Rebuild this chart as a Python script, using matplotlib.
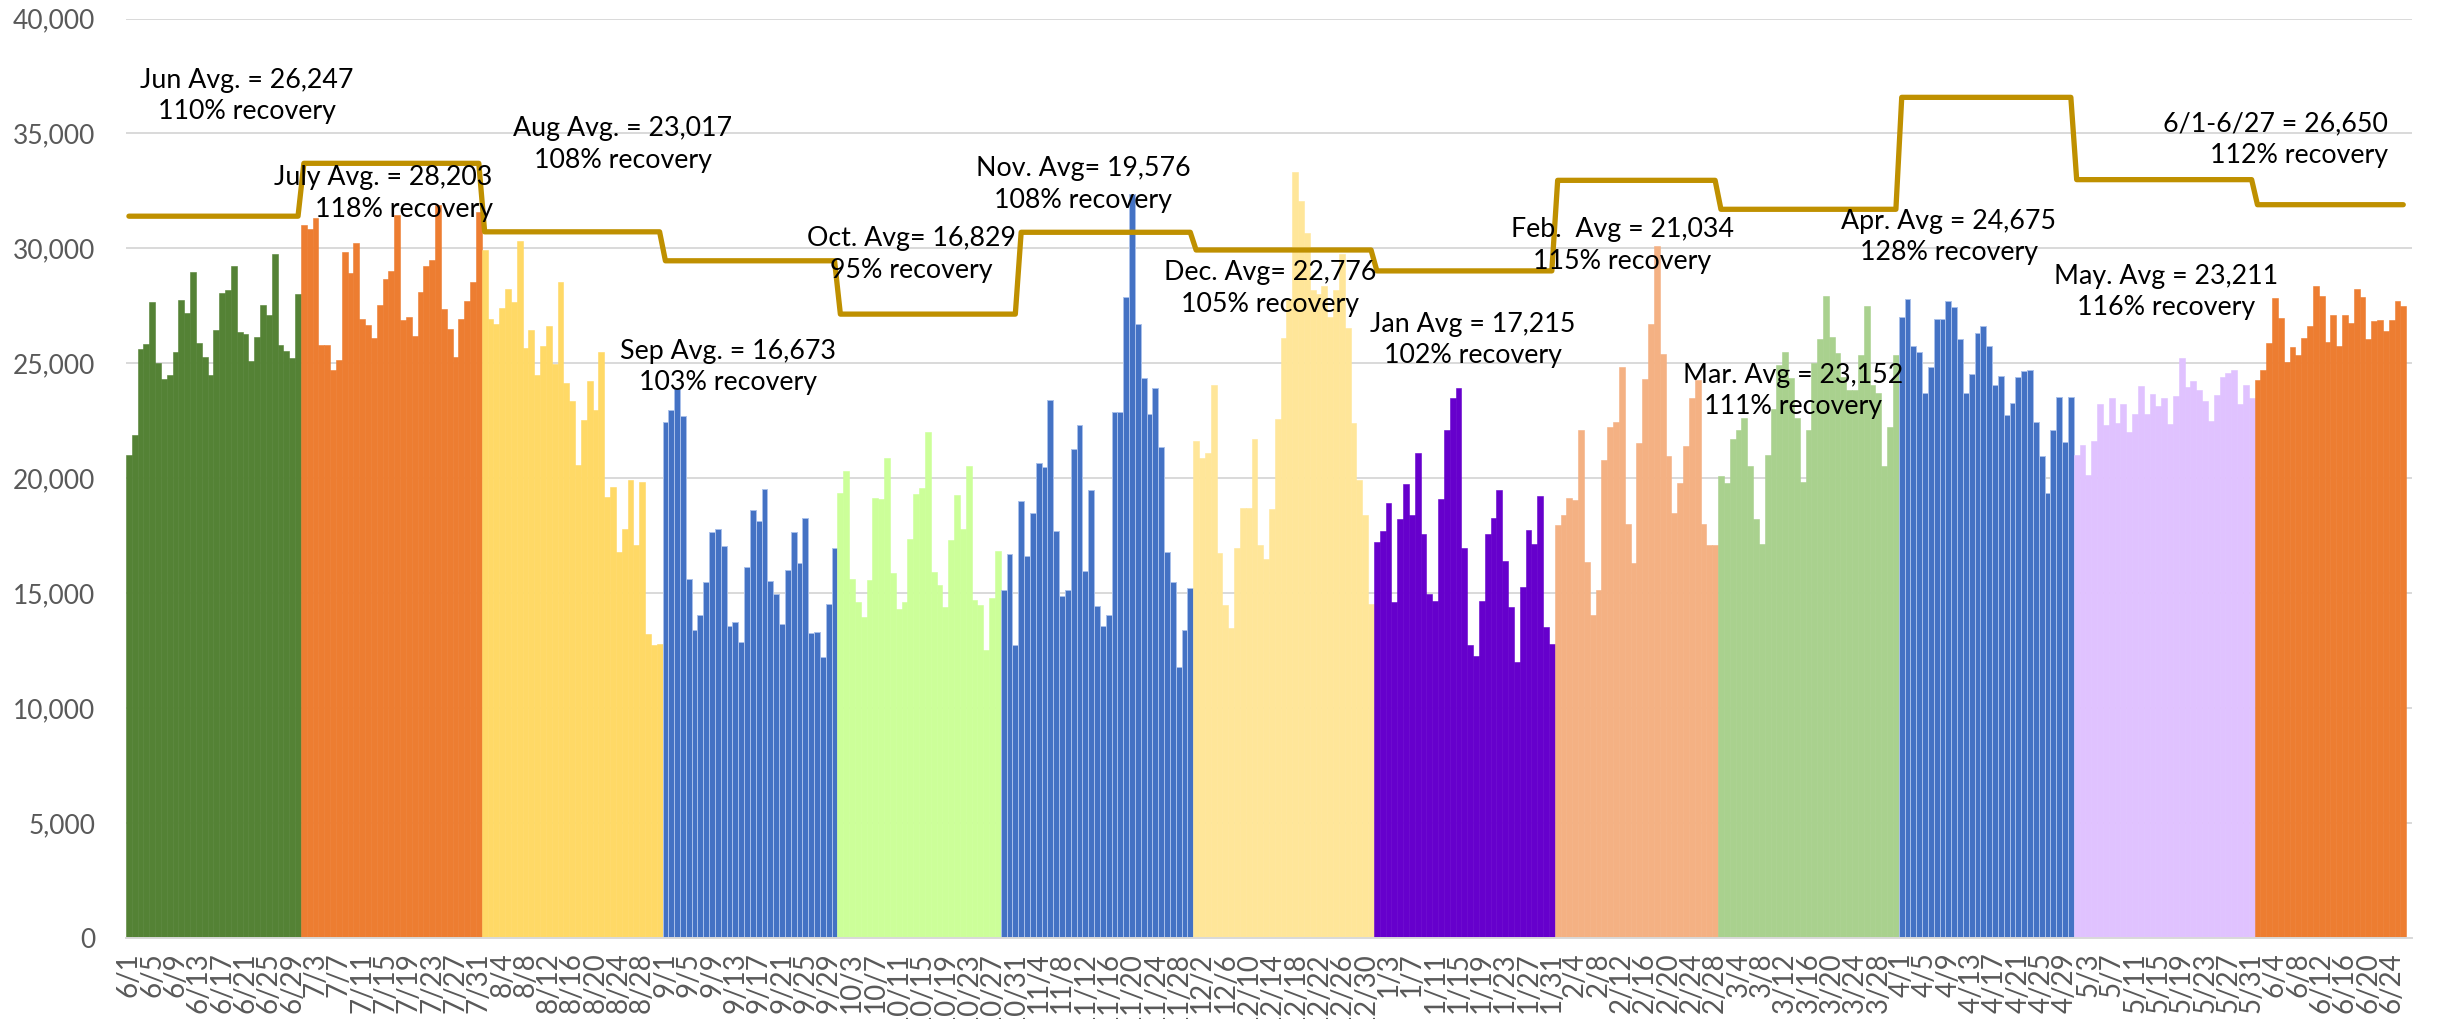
import matplotlib
matplotlib.use('Agg')
import matplotlib.pyplot as plt
import numpy as np
import pandas as pd
from matplotlib.ticker import FuncFormatter

plt.rcParams['font.family'] = ['Lato', 'DejaVu Sans']

# ---------------- data ----------------
dates = pd.date_range('2021-06-01', '2022-06-27', freq='D')
date_labels = [f"{d.month}/{d.day}" for d in dates]

jun21 = [21000, 21900, 25640, 25860, 27670, 25020, 24330, 24510, 25500, 27760,
         27190, 28980, 25900, 25280, 24490, 26460, 28070, 28200, 29240, 26370,
         26280, 25110, 26150, 27540, 27080, 29750, 25810, 25550, 25240, 28030]
jul21 = [31010, 30860, 31320, 25810, 25810, 24690, 25150, 29840, 28930, 30240,
         26940, 26680, 26100, 27540, 28670, 29020, 31460, 26880, 27030, 26190,
         28090, 29240, 29490, 31880, 27360, 26500, 25280, 26940, 27720, 28540, 31570]
aug21 = [29930, 26940, 26720, 27410, 28230, 27670, 30330, 25660, 26460, 24510,
         25770, 26630, 24950, 28540, 24160, 23380, 20590, 22520, 24240, 22980,
         25500, 19180, 19640, 16790, 17780, 19910, 17080, 19820, 13230, 12760, 12810]
sep21 = [22430, 22960, 23890, 22720, 15600, 13410, 14070, 15480, 17650, 17780,
         17060, 13560, 13740, 12870, 16150, 18600, 18140, 19530, 15550, 14980,
         13670, 15990, 17670, 16300, 18270, 13270, 13290, 12230, 14510, 16970]
oct21 = [19360, 20310, 15620, 14600, 13960, 15570, 19130, 19090, 20900, 15880,
         14330, 14600, 17360, 19310, 19580, 22030, 15930, 15350, 14420, 17320,
         19270, 17780, 20530, 14690, 14470, 12520, 14800, 16830]
nov21 = [15150, 16720, 12760, 19000, 16630, 18510, 20680, 20510, 23400, 17700,
         14890, 15150, 21260, 22300, 15950, 19490, 14440, 13560, 14070, 22870,
         22890, 27890, 32360, 26700, 24380, 22810, 23910, 21350, 16810, 15480,
         11770, 13410, 15220]
dec21 = [21610, 20860, 21080, 24070, 16750, 14490, 13490, 16970, 18690, 18690,
         21720, 17100, 16480, 18650, 22560, 26100, 27800, 33310, 32050, 30680,
         28200, 28000, 28380, 27000, 28200, 29750, 26540, 22390, 19910, 18380, 14510]
jan22 = [17230, 17700, 18910, 14620, 18210, 19730, 18400, 21080, 17560, 14980,
         14670, 19090, 22120, 23470, 23930, 16970, 12760, 12280, 14670, 17590,
         18250, 19470, 16410, 14380, 11990, 15260, 17740, 17120, 19220, 13540, 12810]
feb22 = [17960, 18400, 19130, 19050, 22120, 16370, 14050, 15130, 20790, 22250,
         22430, 24860, 18010, 16330, 21520, 24330, 26700, 30110, 25420, 20950,
         18510, 19780, 21390, 23470, 24290, 18010, 17080, 17080]
mar22 = [20090, 19780, 21700, 22120, 22630, 20530, 18210, 17140, 20990, 23010,
         24930, 25500, 24380, 22610, 19820, 22080, 25020, 26040, 27940, 26150,
         25460, 24400, 23820, 23820, 25370, 27500, 24040, 23710, 20530, 22210, 25370]
apr22 = [27010, 27810, 25750, 25480, 23690, 24840, 26940, 26940, 27720, 27450,
         26040, 23690, 24550, 26300, 26630, 25750, 24070, 24440, 22740, 23290,
         24400, 24660, 24690, 22450, 20970, 19360, 22080, 23540, 21570, 23540]
may22 = [20990, 21460, 20150, 21610, 23250, 22300, 23510, 22390, 23250, 22030,
         22810, 24020, 22780, 23650, 23140, 23510, 22340, 23560, 25240, 23960,
         24220, 23820, 23340, 22500, 23620, 24420, 24600, 24730, 23230, 24040, 23510]
jun22 = [24290, 24690, 25900, 27850, 26990, 25040, 25730, 25370, 26100, 26630,
         28360, 27940, 25930, 27080, 25750, 27080, 26770, 28230, 27890, 26040,
         26830, 26880, 26410, 26880, 27720, 27500]

# monthly 2019 reference levels (Jun 2021 ... Jun 2022 periods)
baseline_2019 = [31400, 33700, 30720, 29460, 27140, 30700, 29930,
                 29020, 32960, 31700, 36570, 32990, 31900]

annotations = [
    "Jun Avg. = 26,247\n110% recovery",
    "July Avg. = 28,203\n118% recovery",
    "Aug Avg. = 23,017\n108% recovery",
    "Sep Avg. = 16,673\n103% recovery",
    "Oct. Avg= 16,829\n95% recovery",
    "Nov. Avg= 19,576\n108% recovery",
    "Dec. Avg= 22,776\n105% recovery",
    "Jan Avg = 17,215\n102% recovery",
    "Feb.  Avg = 21,034\n115% recovery",
    "Mar. Avg = 23,152\n111% recovery",
    "Apr. Avg = 24,675\n128% recovery",
    "May. Avg = 23,211\n116% recovery",
    "6/1-6/27 = 26,650\n112% recovery",
]

# ---------------- styling ----------------
segments = [
    (jun21, '#548235'), (jul21, '#ED7D31'), (aug21, '#FFD966'),
    (sep21, '#4472C4'), (oct21, '#CCFF99'), (nov21, '#4472C4'),
    (dec21, '#FFE699'), (jan22, '#6600CC'), (feb22, '#F4B183'),
    (mar22, '#A9D18E'), (apr22, '#4472C4'), (may22, '#E0C2FF'),
    (jun22, '#ED7D31'),
]
blue = '#4472C4'

# annotation positions (category index, value), alignment
ann_pos = [
    (20.2, 36640, 'center'), (62.4, 32390, 'right'), (84.7, 34520, 'center'),
    (102.7, 24840, 'center'), (134.1, 29730, 'center'), (163.6, 32780, 'center'),
    (195.7, 28250, 'center'), (230.5, 26010, 'center'), (256.1, 30120, 'center'),
    (285.4, 23790, 'center'), (312.1, 30500, 'center'), (349.3, 28100, 'center'),
    (387.4, 34730, 'right'),
]

W, H = 2440, 1019
fig = plt.figure(figsize=(W / 100, H / 100), dpi=100)
ax = fig.add_axes([126 / W, (H - 938) / H, 2286 / W, 919.5 / H])

start = 0
for vals, col in segments:
    x = np.arange(start, start + len(vals))
    if col == blue:
        ax.bar(x, vals, width=1.0, color=col, edgecolor='#A9C0EA', linewidth=0.7, zorder=2)
    else:
        ax.bar(x, vals, width=1.0, color=col, edgecolor=col, linewidth=0.4, zorder=2)
    start += len(vals)
n_bars = start

# 2019 reference step line (daily points through bar centres)
month_idx = [(d.year - 2021) * 12 + d.month - 6 for d in dates[:n_bars]]
line_vals = [baseline_2019[m] for m in month_idx]
ax.plot(np.arange(n_bars), line_vals, color='#BF9000', lw=3.8,
        solid_capstyle='round', solid_joinstyle='round', zorder=3)

for txt, (xp, yp, ha) in zip(annotations, ann_pos):
    ax.text(xp, yp, txt, ha=ha, va='center', multialignment=ha,
            fontsize=19.3, color='#000000', zorder=5, linespacing=1.32)

ax.set_xlim(-0.5, len(dates) - 0.5)
ax.set_ylim(0, 40000)
ax.set_yticks(np.arange(0, 40001, 5000))
ax.yaxis.set_major_formatter(FuncFormatter(lambda v, p: f"{int(v):,}"))
ticks = np.arange(0, len(dates), 4)
ax.set_xticks(ticks)
ax.set_xticklabels([date_labels[i] for i in ticks], rotation=90)

ax.tick_params(axis='y', length=0, pad=22, labelsize=19, labelcolor='#595959')
ax.tick_params(axis='x', length=0, pad=10, labelsize=20, labelcolor='#595959')

ax.yaxis.grid(True, color='#D9D9D9', lw=1.4)
ax.set_axisbelow(True)
for s in ['top', 'right', 'left']:
    ax.spines[s].set_visible(False)
ax.spines['bottom'].set_color('#D9D9D9')
ax.spines['bottom'].set_linewidth(1.4)

fig.savefig('out.png', dpi=100)
